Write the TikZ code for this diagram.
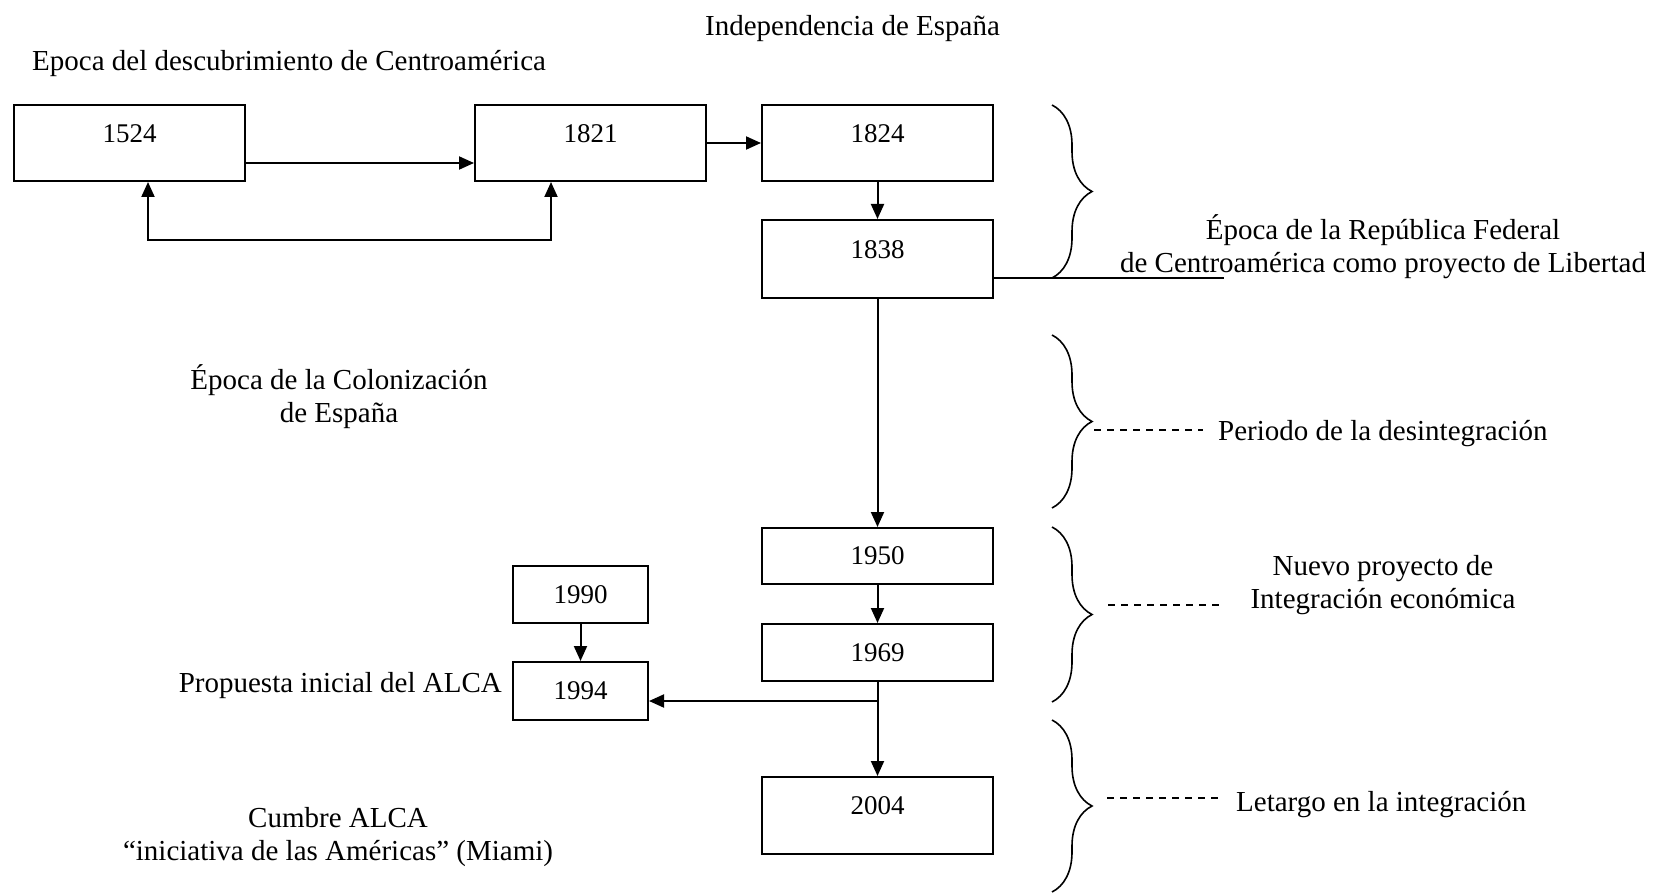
\documentclass[tikz,border=0pt]{standalone}
\usepackage{fontspec}
\setmainfont{Liberation Serif}
\usetikzlibrary{arrows.meta,decorations.pathreplacing,calc}
\begin{document}
\begin{tikzpicture}[x=1pt,y=-1pt,
  box/.style={draw, line width=2pt, inner sep=0pt, font=\fontsize{27}{32}\selectfont},
  wbox/.style={box, minimum width=231pt},
  lbl/.style={inner sep=0pt, font=\fontsize{29}{33}\selectfont},
  tip/.tip={Triangle[length=15pt,width=13pt]},
  arr/.style={line width=2pt, -tip},
  brc/.style={decorate, decoration={brace, amplitude=40pt}, line width=1.6pt},
  dsh/.style={line width=1.6pt, dash pattern=on 7pt off 6pt}]
\useasboundingbox (0,0) rectangle (1654,893);

% boxes
\node[wbox, minimum height=76pt, text height=19pt, text depth=20pt] (b1524) at (129.5,143) {1524};
\node[wbox, minimum height=76pt, text height=19pt, text depth=20pt] (b1821) at (590.5,143) {1821};
\node[wbox, minimum height=76pt, text height=19pt, text depth=20pt] (b1824) at (877.5,143) {1824};
\node[wbox, minimum height=78pt, text height=19pt, text depth=20pt] (b1838) at (877.5,259) {1838};
\node[wbox, minimum height=56pt] (b1950) at (877.5,556) {1950};
\node[wbox, minimum height=57pt] (b1969) at (877.5,652.5) {1969};
\node[box, minimum width=135pt, minimum height=57pt] (b1990) at (580.5,594.5) {1990};
\node[box, minimum width=135pt, minimum height=58pt] (b1994) at (580.5,691) {1994};
\node[wbox, minimum height=77pt, text height=19pt, text depth=22pt] (b2004) at (877.5,815.5) {2004};

% connectors
\draw[arr] ([yshift=-20pt]b1524.east) -- ([yshift=-20pt]b1821.west);
\draw[arr] (b1821.east) -- (b1824.west);
\coordinate (lp) at (350,240);
\draw[line width=2pt, tip-tip] ([xshift=18.5pt]b1524.south) |- (lp) -| ([xshift=-39.5pt]b1821.south);
\draw[arr] (b1824) -- (b1838);
\draw[arr] (b1838) -- (b1950);
\draw[arr] (b1950) -- (b1969);
\draw[arr] (b1990) -- (b1994);
\draw[arr] (b1969) -- (b2004);
\coordinate (jn) at (877.5,701);
\draw[arr] (jn) -- (b1994.east |- jn);
\coordinate (fedEnd) at (1224,278);
\draw[line width=2pt] ([yshift=-19pt]b1838.east) -- (fedEnd);

% braces
\draw[brc] (1052,105) -- (1052,278);
\draw[brc] (1052,335) -- (1052,508);
\draw[brc] (1052,527) -- (1052,702);
\draw[brc] (1052,720) -- (1052,892);

% dashed leaders
\coordinate (d2a) at (1094,430); \coordinate (d2b) at (1203,430);
\coordinate (d3a) at (1108,605); \coordinate (d3b) at (1225,605);
\coordinate (d4a) at (1107,798); \coordinate (d4b) at (1224,798);
\draw[dsh] (d2a) -- (d2b);
\draw[dsh] (d3a) -- (d3b);
\draw[dsh] (d4a) -- (d4b);

% labels
\node[lbl, anchor=west] (tDesc) at (32,64) {Epoca del descubrimiento de Centroamérica};
\node[lbl, anchor=west] (tInd) at (705,29) {Independencia de España};
\node[lbl, align=center] (tCol) at (339,397) {Época de la Colonización\\de España};
\node[lbl, anchor=east] (tProp) at (502,686) {Propuesta inicial del ALCA};
\node[lbl, align=center] (tCum) at (338,837) {Cumbre ALCA\\“iniciativa de las Américas” (Miami)};
\node[lbl, align=center] (tFed) at (1383,247) {Época de la República Federal\\de Centroamérica como proyecto de Libertad};
\node[lbl, anchor=west] (tDes) at (1218,434) {Periodo de la desintegración};
\node[lbl, align=center] (tNue) at (1383,585) {Nuevo proyecto de\\Integración económica};
\node[lbl, anchor=west] (tLet) at (1236,805) {Letargo en la integración};
\end{tikzpicture}
\end{document}
